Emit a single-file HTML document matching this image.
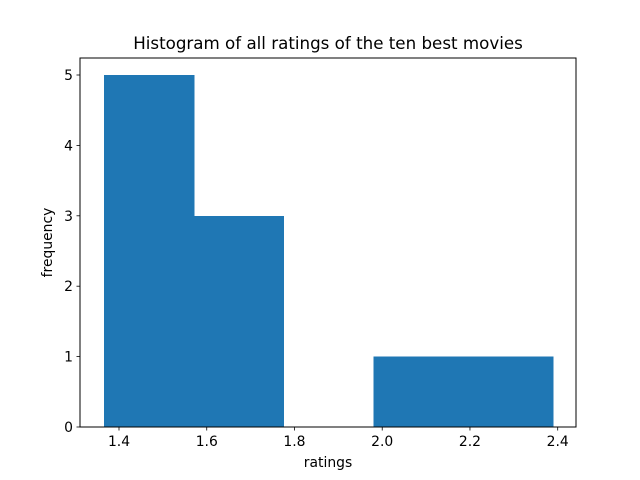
<!DOCTYPE html>
<html><head><meta charset="utf-8"><style>
body{margin:0;background:#fff;}
svg{display:block;font-family:"DejaVu Sans","Liberation Sans",sans-serif;}
</style></head><body>
<svg id="chart" width="640" height="480" xmlns="http://www.w3.org/2000/svg"></svg>
<script>
const binEdges = [1.366, 1.5706, 1.7752, 1.9798, 2.1844, 2.389];
const binCounts = [5, 3, 0, 1, 1];
const xTicks = [1.4, 1.6, 1.8, 2.0, 2.2, 2.4];
const xTickLabels = ["1.4", "1.6", "1.8", "2.0", "2.2", "2.4"];
const yTicks = [0, 1, 2, 3, 4, 5];

const L=80, R=576, T=58, B=427;
const x0=1.4, xPx0=119, xScale=438.7;
const xs = v => xPx0 + (v - x0) * xScale;
const yScale = (B - 75) / 5;
const ys = v => B - v * yScale;
const svg = document.getElementById('chart');
const NS = 'http://www.w3.org/2000/svg';
function mk(tag, attrs, parent) {
  const e = document.createElementNS(NS, tag);
  for (const k in attrs) e.setAttribute(k, attrs[k]);
  (parent || svg).appendChild(e);
  return e;
}
const bars = mk('g', {'shape-rendering': 'crispEdges'});


binCounts.forEach((c, i) => {
  if (c <= 0) return;
  const x1 = xs(binEdges[i]), x2 = xs(binEdges[i + 1]);
  const r = mk('rect', {x: x1, y: ys(c), width: x2 - x1 + 0.5, height: ys(0) - ys(c), fill: '#1f77b4'}, bars);
  
  
});
const frame = mk('rect', {x: L, y: T, width: R - L, height: B - T, fill: 'none', stroke: '#000', 'stroke-width': 1, 'shape-rendering': 'crispEdges'});


xTicks.forEach((v, i) => {
  const px = xs(v);
  mk('line', {x1: px, x2: px, y1: B, y2: B + 3.5, stroke: '#000', 'stroke-width': 0.8});
  const t = mk('text', {x: px, y: B + 19, 'font-size': 13.9, 'text-anchor': 'middle', fill: '#000'});
  t.textContent = xTickLabels[i];
  
  
});
yTicks.forEach(v => {
  const py = ys(v);
  mk('line', {x1: L - 3.5, x2: L, y1: py, y2: py, stroke: '#000', 'stroke-width': 0.8});
  const t = mk('text', {x: L - 7, y: py + 5, 'font-size': 13.9, 'text-anchor': 'end', fill: '#000'});
  t.textContent = String(v);
  
  
});
const title = mk('text', {x: (L + R) / 2, y: 49, 'font-size': 16.7, 'text-anchor': 'middle', fill: '#000'});
title.textContent = 'Histogram of all ratings of the ten best movies';


const xl = mk('text', {x: (L + R) / 2, y: 467, 'font-size': 13.9, 'text-anchor': 'middle', fill: '#000'});
xl.textContent = 'ratings';


const yl = mk('text', {x: 0, y: 0, 'font-size': 13.9, 'text-anchor': 'middle', fill: '#000', transform: 'translate(52,' + ((T + B) / 2) + ') rotate(-90)'});
yl.textContent = 'frequency';


</script>
</body></html>
